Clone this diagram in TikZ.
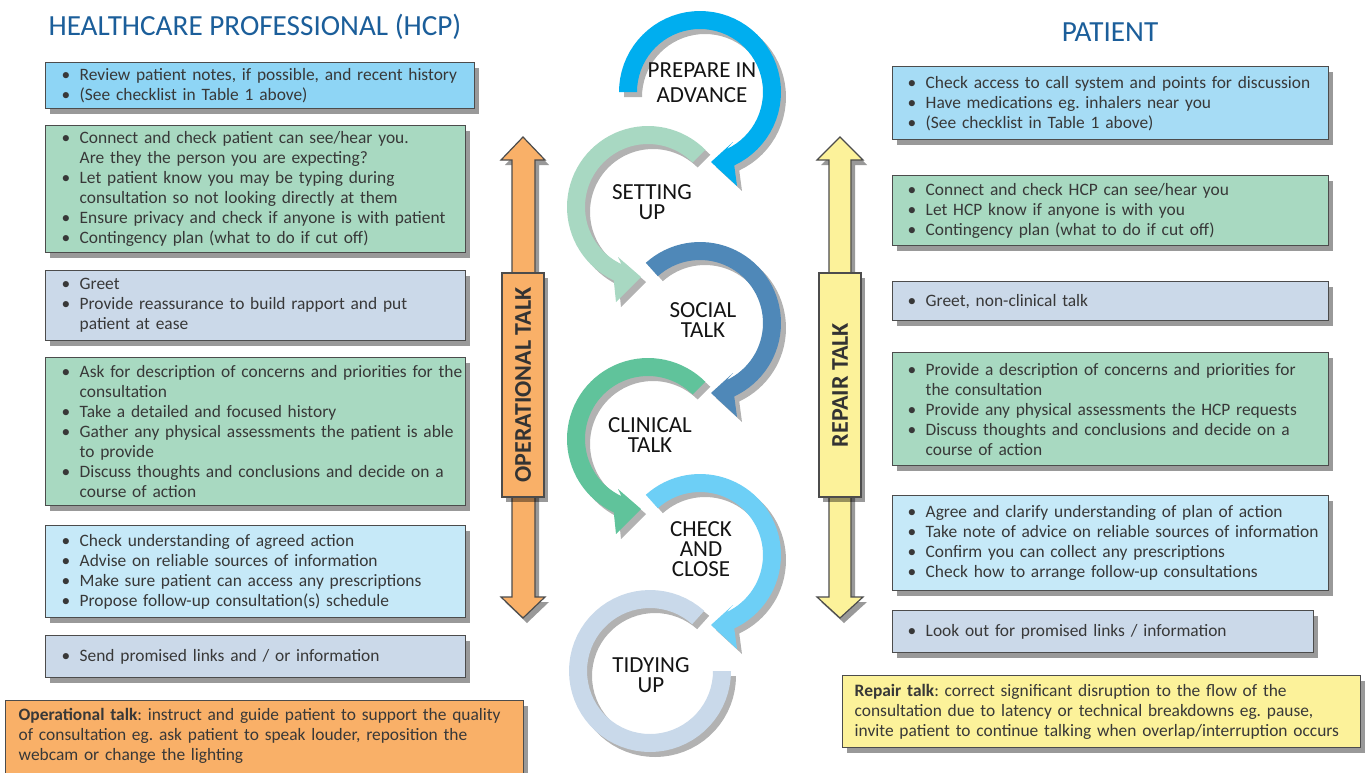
\documentclass[tikz,border=0pt]{standalone}
\usepackage{fontspec}
\setmainfont{Carlito}
\usetikzlibrary{shadows}
\frenchspacing

\definecolor{hcpblue}{HTML}{1B5E9A}
\definecolor{inkgray}{HTML}{383838}
\definecolor{skyfill}{HTML}{8ED5F5}
\definecolor{skyfilltwo}{HTML}{A6DCF5}
\definecolor{mintfill}{HTML}{A8D9C1}
\definecolor{lavfill}{HTML}{CBD9E9}
\definecolor{palefill}{HTML}{C6E9F8}
\definecolor{opfill}{HTML}{F9B068}
\definecolor{repfill}{HTML}{FCF29A}
\definecolor{ringone}{HTML}{00AEEF}
\definecolor{ringtwo}{HTML}{A8D8C2}
\definecolor{ringthree}{HTML}{4F88B8}
\definecolor{ringfour}{HTML}{60C39B}
\definecolor{ringfive}{HTML}{6DCFF6}
\definecolor{ringsix}{HTML}{C9D9EA}

\newcommand{\boxfont}{\fontsize{8.7}{10}\selectfont}
\newcommand{\bul}[1]{\mbox{\makebox[9pt][l]{\textbullet}#1}}
\newcommand{\cont}[1]{\mbox{\hspace*{9pt}#1}}

\tikzset{
  panelshadow/.style={drop shadow={shadow xshift=2pt, shadow yshift=-2.5pt, fill=black, opacity=.4}},
  ringshadow/.style={drop shadow={shadow xshift=2.5pt, shadow yshift=-2.5pt, fill=black, opacity=.3}},
  panel/.style={draw=black!70, line width=.7pt, anchor=north west, align=left,
    inner xsep=8pt, inner ysep=2pt, font=\boxfont, text=inkgray, panelshadow},
  hcpbox/.style={panel, text width=194pt},
  patbox/.style={panel, inner xsep=7.5pt, text width=203pt},
  notebox/.style={panel, inner xsep=6.5pt, text width=246pt},
  title/.style={font=\fontsize{14.6}{16}\selectfont, text=hcpblue},
  stagelabel/.style={align=center, font=\fontsize{11.5}{10}\selectfont, text=black!92},
  talklabel/.style={draw=black!70, line width=.6pt, rotate=90, minimum width=112pt,
    minimum height=21pt, inner sep=0pt, font=\bfseries\fontsize{12}{14}\selectfont,
    text=black!80, panelshadow},
  talkarrow/.style={draw=black!70, line width=.6pt, panelshadow}
}

% clockwise ring with head, #1 centre, #2 start angle, #3 colour
\newcommand{\cwring}[3]{%
  \begin{scope}[shift={(#1)}]
    \fill[#3, ringshadow] plot[domain=#2:-65, samples=50] ({81*cos(\x)}, {-81*sin(\x)})
      -- (37,94) -- (11,70) -- (33,50)
      -- plot[domain=-65:#2, samples=50] ({63*cos(\x)}, {-63*sin(\x)}) -- cycle;
  \end{scope}}
% counter-clockwise ring with head
\newcommand{\ccwring}[3]{%
  \begin{scope}[shift={(#1)}]
    \fill[#3, ringshadow] plot[domain=#2:245, samples=50] ({81*cos(\x)}, {-81*sin(\x)})
      -- (-32,95) -- (-7,70) -- (-30,50)
      -- plot[domain=245:#2, samples=50] ({63*cos(\x)}, {-63*sin(\x)}) -- cycle;
  \end{scope}}

\begin{document}
\begin{tikzpicture}[x=0.5pt,y=-0.5pt]
   \useasboundingbox (0,0) rectangle (1366,772);
   \fill[white] (0,0) rectangle (1366,772);

   % healthcare professional side
   \node[title] (hcptitle) at (255,27) {HEALTHCARE PROFESSIONAL (HCP)};
   \node[hcpbox, text width=198.5pt, fill=skyfill, minimum height=23pt] (l1) at (45,62)
     {\bul{Review patient notes, if possible, and recent history}\\
      \bul{(See checklist in Table 1 above)}};
   \node[hcpbox, fill=mintfill, minimum height=63.5pt] (l2) at (45,125)
     {\bul{Connect and check patient can see/hear you.}\\
      \cont{Are they the person you are expecting?}\\
      \bul{Let patient know you may be typing during}\\
      \cont{consultation so not looking directly at them}\\
      \bul{Ensure privacy and check if anyone is with patient}\\
      \bul{Contingency plan (what to do if cut off)}};
   \node[hcpbox, fill=lavfill, minimum height=35pt] (l3) at (45,270)
     {\bul{Greet}\\
      \bul{Provide reassurance to build rapport and put}\\
      \cont{patient at ease}};
   \node[hcpbox, fill=mintfill, minimum height=74pt] (l4) at (45,357)
     {\bul{Ask for description of concerns and priorities for the}\\
      \cont{consultation}\\
      \bul{Take a detailed and focused history}\\
      \bul{Gather any physical assessments the patient is able}\\
      \cont{to provide}\\
      \bul{Discuss thoughts and conclusions and decide on a}\\
      \cont{course of action}};
   \node[hcpbox, fill=palefill, minimum height=46pt] (l5) at (45,525)
     {\bul{Check understanding of agreed action}\\
      \bul{Advise on reliable sources of information}\\
      \bul{Make sure patient can access any prescriptions}\\
      \bul{Propose follow-up consultation(s) schedule}};
   \node[hcpbox, fill=lavfill, minimum height=21pt] (l6) at (45,635)
     {\bul{Send promised links and / or information}};
   \node[notebox, fill=opfill, text height=7pt, text depth=30pt, inner ysep=3pt] (opnote) at (5,700)
     {\mbox{\textbf{Operational talk}: instruct and guide patient to support the quality}\\
      \mbox{of consultation eg. ask patient to speak louder, reposition the}\\
      \mbox{webcam or change the lighting}};

   % patient side
   \node[title] (pattitle) at (1110,32) {PATIENT};
   \node[patbox, fill=skyfilltwo, minimum height=36.5pt] (r1) at (892,66)
     {\bul{Check access to call system and points for discussion}\\
      \bul{Have medications eg. inhalers near you}\\
      \bul{(See checklist in Table 1 above)}};
   \node[patbox, fill=mintfill, minimum height=35pt] (r2) at (892,175)
     {\bul{Connect and check HCP can see/hear you}\\
      \bul{Let HCP know if anyone is with you}\\
      \bul{Contingency plan (what to do if cut off)}};
   \node[patbox, fill=lavfill, minimum height=19.5pt] (r3) at (892,281)
     {\bul{Greet, non-clinical talk}};
   \node[patbox, fill=mintfill, minimum height=56.5pt] (r4) at (892,352)
     {\bul{Provide a description of concerns and priorities for}\\
      \cont{the consultation}\\
      \bul{Provide any physical assessments the HCP requests}\\
      \bul{Discuss thoughts and conclusions and decide on a}\\
      \cont{course of action}};
   \node[patbox, fill=palefill, minimum height=47.5pt] (r5) at (892,495)
     {\bul{Agree and clarify understanding of plan of action}\\
      \bul{Take note of advice on reliable sources of information}\\
      \bul{Confirm you can collect any prescriptions}\\
      \bul{Check how to arrange follow-up consultations}};
   \node[patbox, text width=195.5pt, fill=lavfill, minimum height=21pt] (r6) at (892,610)
     {\bul{Look out for promised links / information}};
   \node[notebox, inner xsep=6pt, text width=247pt, fill=repfill, minimum height=36pt] (repnote) at (842,675)
     {\mbox{\textbf{Repair talk}: correct significant disruption to the flow of the}\\
      \mbox{consultation due to latency or technical breakdowns eg. pause,}\\
      \mbox{invite patient to continue talking when overlap/interruption occurs}};

   % the two talk arrows
   \filldraw[talkarrow, fill=opfill] (523,137) -- (545,160) -- (535,160) -- (535,597) -- (545,597)
     -- (523,618) -- (501,597) -- (512,597) -- (512,160) -- (501,160) -- cycle;
   \node[talklabel, fill=opfill] (optalk) at (523,385) {OPERATIONAL TALK};
   \filldraw[talkarrow, fill=repfill] (840,137) -- (863,160) -- (851,160) -- (851,597) -- (863,597)
     -- (840,618) -- (817,597) -- (829,597) -- (829,160) -- (817,160) -- cycle;
   \node[talklabel, fill=repfill] (reptalk) at (840,385) {REPAIR TALK};

   % consultation cycle
   \coordinate (c1) at (700,92);
   \coordinate (c2) at (648,207);
   \coordinate (c3) at (700,323);
   \coordinate (c4) at (648,439);
   \coordinate (c5) at (700,555);
   \coordinate (c6) at (650,671);

   \begin{scope}[shift={(c6)}]
     \fill[ringsix, ringshadow] plot[domain=48:360, samples=60] ({81*cos(\x)}, {-81*sin(\x)})
       -- plot[domain=360:48, samples=60] ({63*cos(\x)}, {-63*sin(\x)}) -- cycle;
   \end{scope}
   \cwring{c5}{132}{ringfive}
   \ccwring{c4}{45}{ringfour}
   \cwring{c3}{132}{ringthree}
   \ccwring{c2}{45}{ringtwo}
   \cwring{c1}{180}{ringone}

   \node[stagelabel] (prep) at (702,83) {PREPARE IN\\[2.5pt]ADVANCE};
   \node[stagelabel] (setup) at (652,202) {SETTING\\UP};
   \node[stagelabel] (social) at (703,320) {SOCIAL\\TALK};
   \node[stagelabel] (clinical) at (650,435) {CLINICAL\\TALK};
   \node[stagelabel] (checkclose) at (701,549) {CHECK\\AND\\CLOSE};
   \node[stagelabel] (tidy) at (651,675) {TIDYING\\UP};

\end{tikzpicture}
\end{document}
